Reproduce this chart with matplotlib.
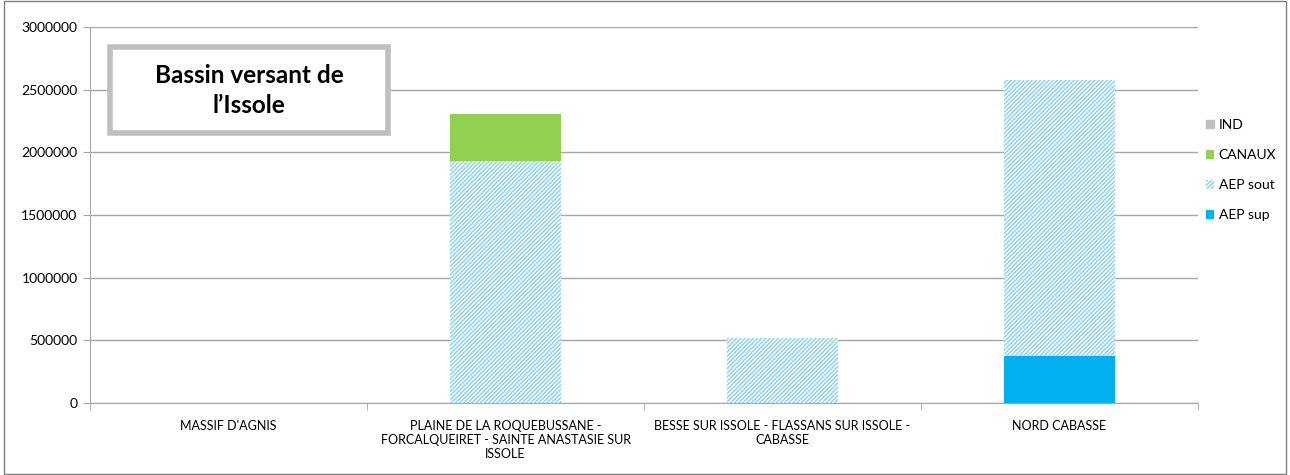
import matplotlib.pyplot as plt
import numpy as np
from matplotlib.patches import Rectangle
from matplotlib.ticker import FuncFormatter

plt.rcParams['font.family'] = ['Lato', 'DejaVu Sans']
plt.rcParams['hatch.linewidth'] = 1.1

categories = [
    "MASSIF D'AGNIS",
    "PLAINE DE LA ROQUEBUSSANE -\nFORCALQUEIRET - SAINTE ANASTASIE SUR\nISSOLE",
    "BESSE SUR ISSOLE - FLASSANS SUR ISSOLE -\nCABASSE",
    "NORD CABASSE",
]
aep_sup = [0, 0, 0, 375000]
aep_sout = [0, 1930000, 519000, 2203000]
canaux = [0, 375000, 0, 0]
ind = [0, 0, 3000, 0]

fig = plt.figure(figsize=(12.9, 4.75), dpi=100)
ax = fig.add_axes([0.0698, 0.1516, 0.8589, 0.7916])

x = np.arange(len(categories))
w = 0.4
b1 = ax.bar(x, aep_sup, w, color="#00b0f0", label="AEP sup", zorder=3)
b2 = ax.bar(x, aep_sout, w, bottom=aep_sup, color="white", edgecolor="#8fd3f5",
            hatch="////////", linewidth=0, label="AEP sout", zorder=3)
bot = np.array(aep_sup) + np.array(aep_sout)
b3 = ax.bar(x, canaux, w, bottom=bot, color="#92d050", label="CANAUX", zorder=3)
bot = bot + np.array(canaux)
b4 = ax.bar(x, ind, w, bottom=bot, color="#f4a6a0", label="IND", zorder=3)

ax.set_xlim(-0.5, len(categories) - 0.5)
ax.set_ylim(0, 3000000)
ax.set_yticks(np.arange(0, 3000001, 500000))
ax.yaxis.set_major_formatter(FuncFormatter(lambda v, p: f"{int(v)}"))
ax.yaxis.grid(True, color="#a6a6a6", linewidth=1, zorder=0)
ax.tick_params(axis="y", labelsize=10, length=5, color="#a6a6a6", pad=4)
ax.set_xticks(x)
ax.set_xticklabels(categories, fontsize=9)
ax.tick_params(axis="x", length=0, pad=12)
# category separator ticks
ax.set_xticks(np.arange(-0.5, len(categories)), minor=True)
ax.tick_params(axis="x", which="minor", length=5, color="#a6a6a6")
for s in ["top", "right"]:
    ax.spines[s].set_visible(False)
for s in ["left", "bottom"]:
    ax.spines[s].set_color("#a6a6a6")

handles = [Rectangle((0, 0), 1, 1, color="#bfbfbf"), b3, b2, b1]
labels = ["IND", "CANAUX", "AEP sout", "AEP sup"]
leg = fig.legend(handles, labels, loc="center left", bbox_to_anchor=(0.935, 0.642),
                 frameon=False, fontsize=10, handlelength=0.6, handleheight=0.6,
                 labelspacing=1.3, handletextpad=0.3, borderpad=0, borderaxespad=0)

# title box
fig.add_artist(Rectangle((0.0853, 0.72), 0.2155, 0.181, transform=fig.transFigure,
                         facecolor="white", edgecolor="#bfbfbf", linewidth=4, zorder=5))
fig.text(0.193, 0.81, "Bassin versant de\nl\u2019Issole", ha="center", va="center",
         fontsize=17.5, fontweight="bold", linespacing=1.35, zorder=6)

# outer border
fig.add_artist(Rectangle((0.003, 0.003), 0.994, 0.994, transform=fig.transFigure,
                         fill=False, edgecolor="#7f7f7f", linewidth=1))

fig.savefig("out.png", dpi=100)
